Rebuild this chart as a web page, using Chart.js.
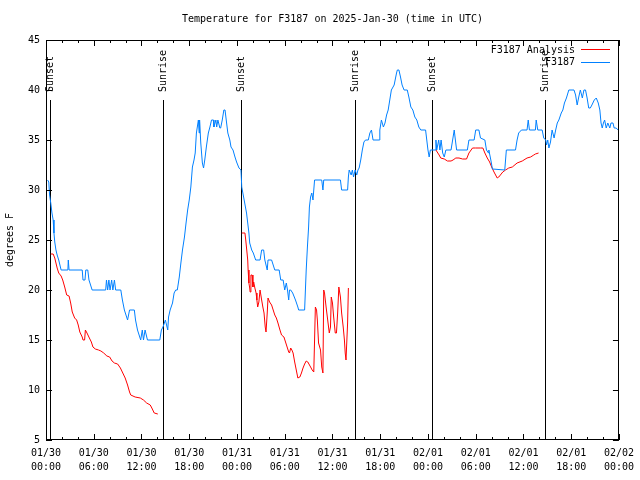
<!DOCTYPE html>
<html><head><meta charset="utf-8">
<script src="https://cdn.jsdelivr.net/npm/chart.js@4/dist/chart.umd.min.js"></script>
<style>html,body{margin:0;padding:0;background:#fff}#wrap{width:640px;height:480px}</style>
</head><body><div id="wrap"><canvas id="c" width="640" height="480"></canvas></div>
<script>
// Hours since 2025-01-30 00:00 UTC
const stationHours = [0.2,0.35,0.45,0.6,0.75,0.9,1.0,1.1,1.25,1.4,1.6,1.9,2.75,2.8,2.9,4.55,4.65,4.9,5.0,5.25,5.4,5.8,7.5,7.6,7.75,7.9,8.05,8.25,8.4,8.6,8.75,9.4,9.6,9.85,10.25,10.5,11.1,11.25,11.5,11.9,12.1,12.25,12.45,12.75,14.3,14.5,14.7,15.0,15.3,15.4,15.6,15.9,16.1,16.3,16.5,16.75,16.95,17.15,17.4,17.6,17.8,18.0,18.2,18.4,18.6,18.75,18.9,19.15,19.25,19.3,19.45,19.65,19.8,19.95,20.15,20.4,20.6,20.8,21.05,21.1,21.35,21.45,21.6,21.85,21.95,22.15,22.35,22.5,22.65,22.85,23.1,23.25,23.5,23.75,23.95,24.25,24.5,24.6,24.9,25.2,25.35,25.5,25.6,25.85,26.05,26.35,26.9,27.1,27.35,27.5,27.8,27.9,28.35,28.75,29.3,29.5,29.8,30.0,30.2,30.35,30.5,30.6,30.75,31.0,31.35,31.65,31.75,32.5,32.7,32.85,33.0,33.1,33.25,33.4,33.55,33.75,34.65,34.8,34.9,37.0,37.15,37.9,38.0,38.1,38.35,38.5,38.65,38.85,39.05,39.2,39.35,39.55,39.75,39.95,40.15,40.5,40.7,40.9,41.1,41.9,41.95,42.15,42.4,42.6,42.8,43.0,43.2,43.4,43.75,44.05,44.15,44.35,44.55,44.75,45.0,45.4,45.6,45.85,46.1,46.35,46.6,46.85,47.1,47.7,47.85,48.0,48.15,48.3,48.9,49.0,49.1,49.35,49.5,49.65,49.85,50.05,50.25,50.9,51.1,51.3,51.4,51.6,52.95,53.15,53.8,54.0,54.4,54.6,55.15,55.35,55.6,55.65,55.9,56.1,57.65,57.85,59.0,59.2,59.4,59.75,60.45,60.6,60.75,61.5,61.6,61.8,62.35,62.55,62.8,62.9,63.05,63.2,63.4,63.6,63.85,64.05,64.25,64.45,64.75,64.95,65.15,65.4,65.7,66.35,66.55,66.75,66.95,67.15,67.4,67.6,67.8,68.0,68.2,68.4,68.6,68.9,69.15,69.4,69.6,69.75,69.9,70.05,70.2,70.4,70.6,70.85,71.0,71.25,71.4,71.65,71.9];
const stationTemps = [31,30.8,29.5,28.7,27.7,27,25.7,24.8,24,23.5,23,22,22,23,22,22,21,21,22,22,21,20,20,21,20,21,20,21,20,21,20,20,19,18,17,18,18,17,16,15,16,15,16,15,15,16,16.3,17,16,17.3,18,18.7,19.7,20,20,21.3,22.7,24,25.3,26.7,28,29,30.3,32.3,33,33.7,35.7,37,35.7,37,34.7,32.7,32.2,33,34.3,35.7,36.3,37,37,36.3,37,36.3,37,36.2,36.2,37,38,38,37,35.7,35,34.3,34,33.3,32.8,32.2,32,30.3,29,27.7,26.7,25.7,24.7,24,23.7,23,23,24,24,23,22,23,23,22,22,21,21,20,20.7,20,19,20,20,19.7,19,18.3,18,18,22,24.3,26.3,28.3,29.3,29.7,29,31,31,30,31,31,30,30,31.3,32,31.5,32,31.3,32,31.5,32,32.2,33,34,34.8,35,35,35.7,36,35,35,36,37,36.3,36.7,37.5,38,39,40,40.5,41.7,42,42,41.3,40.5,40,40,39.3,38.3,38,37.3,37,36.3,36,36,35,34,33.3,34,34,35,34,35,34,35,33.7,33.3,34,34,35,36,35.3,34,34,35,35,36,36,35.2,35,34,33.7,34,33,32.1,32,34,34,35,35.7,36,36,37,36,36,37,36,36,35.2,35,34.5,35,34.2,34.8,36,35.2,36,36.7,37,37.7,38,38.7,39.2,40,40,39.5,38.5,39.3,40,39.2,40,40,39.2,38.2,38.2,38.5,39,39.2,38.7,38,36.7,36.2,36.7,37,36.2,36.7,36.2,36.7,36.7,36.2,36.2,36];

const analysisHours = [0.6,0.9,1.1,1.25,1.4,1.6,1.9,2.1,2.35,2.6,2.9,3.1,3.3,3.6,3.85,4.05,4.25,4.55,4.65,4.85,4.95,5.15,5.45,5.7,5.9,6.2,6.6,6.9,7.25,7.65,8.0,8.3,8.6,9.0,9.35,9.65,9.95,10.25,10.5,10.65,11.2,11.85,12.25,12.65,13.1,13.3,13.6,14.05,
  19.0,
  24.6,25.0,25.1,25.2,25.35,25.4,25.5,25.6,25.65,25.75,25.9,26.0,26.1,26.25,26.4,26.5,26.6,26.75,26.9,27.1,27.25,27.4,27.55,27.65,27.8,27.9,28.1,28.35,28.55,28.75,28.95,29.15,29.4,29.6,29.9,30.1,30.3,30.5,30.6,30.75,30.9,31.05,31.25,31.45,31.65,31.9,32.1,32.3,32.5,32.7,32.9,33.25,33.45,33.65,33.75,33.85,34.0,34.1,34.25,34.5,34.65,34.8,34.9,35.0,35.2,35.4,35.6,35.75,35.85,36.0,36.15,36.35,36.5,36.65,36.8,37.0,37.15,37.35,37.5,37.6,37.7,37.8,37.9,38.0,
  43.0,
  49.0,49.4,49.6,50.05,50.45,50.9,51.15,51.5,51.9,52.35,52.85,53.15,53.6,54.0,54.6,54.9,55.15,55.45,55.75,56.0,56.3,56.5,56.7,56.9,57.1,57.4,57.75,58.15,58.6,59.2,59.85,60.45,60.9,61.3,61.5,61.9];
const analysisTemps = [23.6,23.6,23.2,22.7,22.2,21.7,21.4,21,20.3,19.5,19.4,18.7,17.8,17.2,17,16.5,15.8,15.3,15,15,16,15.7,15.2,14.8,14.3,14.1,14,13.9,13.7,13.4,13.3,12.9,12.7,12.6,12.2,11.7,11.2,10.5,9.8,9.5,9.3,9.2,9,8.7,8.5,8.2,7.7,7.6,
  null,
  25.7,25.7,25,24.2,23,22,20.7,20.2,19.8,21.5,21.5,20.3,20.8,20.2,19.7,19,18.3,18.8,20,19,18.3,17.7,16.3,15.8,17.7,19.2,18.8,18.5,18,17.5,17.2,16.7,16,15.5,15.3,14.8,14.3,13.8,13.7,14.2,14,13.7,12.8,12,11.2,11.3,11.7,12.2,12.6,12.9,12.8,12.3,12,11.8,15,18.3,18,17,14.7,14,12.3,11.7,20,19.7,18.3,17,15.7,16.3,19.3,18.7,17.3,15.7,15.7,17.7,20.3,19.3,17.7,16.3,15,13.7,13,13,16.7,20.2,
  null,
  34,33.5,33.2,33.1,32.9,32.9,33,33.2,33.2,33.1,33.1,33.7,34.2,34.2,34.2,34.2,33.7,33.2,32.8,32.3,31.8,31.5,31.2,31.3,31.5,31.8,32,32.2,32.3,32.7,32.9,33.2,33.3,33.5,33.6,33.7];

const xTickHours = [0,6,12,18,24,30,36,42,48,54,60,66,72];
const xTickLabels = [["01/30","00:00"],["01/30","06:00"],["01/30","12:00"],["01/30","18:00"],["01/31","00:00"],["01/31","06:00"],["01/31","12:00"],["01/31","18:00"],["02/01","00:00"],["02/01","06:00"],["02/01","12:00"],["02/01","18:00"],["02/02","00:00"]];
const xMinorHours = [2,4,8,10,14,16,20,22,26,28,32,34,38,40,44,46,50,52,56,58,62,64,68,70];
const yTickValues = [5,10,15,20,25,30,35,40,45];
const sunEventHours = [0.5,14.75,24.5,38.875,48.5,62.75];
const sunEventLabels = ["Sunset","Sunrise","Sunset","Sunrise","Sunset","Sunrise"];
const seriesNames = ["F3187 Analysis","F3187"];
const seriesColors = ["#ff0000","#0080ff"];

const FONT = '"DejaVu Sans Mono", "Liberation Mono", monospace';

const decor = {
  id: 'decor',
  beforeDatasetsDraw(chart) {
    const {ctx, chartArea: a, scales: {x}} = chart;
    const h = a.bottom - a.top;
    ctx.save();
    ctx.strokeStyle = '#000'; ctx.lineWidth = 1; ctx.fillStyle = '#000';
    ctx.font = '10px ' + FONT;
    sunEventHours.forEach((hr, i) => {
      const px = Math.round(x.getPixelForValue(hr)) + 0.5;
      ctx.beginPath(); ctx.moveTo(px, a.top + 0.15 * h); ctx.lineTo(px, a.bottom); ctx.stroke();
      ctx.save();
      ctx.translate(px, a.top + 0.13 * h);
      ctx.rotate(-Math.PI / 2);
      ctx.textAlign = 'left'; ctx.textBaseline = 'middle';
      ctx.fillText(sunEventLabels[i], 0, 0);
      ctx.restore();
    });
    ctx.restore();
  },
  afterDraw(chart) {
    const {ctx, chartArea: a, scales: {x, y}} = chart;
    ctx.save();
    ctx.strokeStyle = '#000'; ctx.lineWidth = 1;
    ctx.strokeRect(Math.round(a.left) + 0.5, Math.round(a.top) + 0.5, Math.round(a.right - a.left) - 1, Math.round(a.bottom - a.top) - 1);
    ctx.beginPath();
    const tick = (v, len) => {
      const px = Math.round(x.getPixelForValue(v)) + 0.5;
      ctx.moveTo(px, a.bottom); ctx.lineTo(px, a.bottom - len);
      ctx.moveTo(px, a.top); ctx.lineTo(px, a.top + len);
    };
    xTickHours.forEach(v => tick(v, 6));
    xMinorHours.forEach(v => tick(v, 3));
    yTickValues.forEach(v => {
      const py = Math.round(y.getPixelForValue(v)) + 0.5;
      ctx.moveTo(a.left, py); ctx.lineTo(a.left + 6, py);
      ctx.moveTo(a.right, py); ctx.lineTo(a.right - 6, py);
    });
    ctx.stroke();
    // legend (key)
    ctx.font = '10px ' + FONT; ctx.fillStyle = '#000';
    ctx.textAlign = 'right'; ctx.textBaseline = 'middle';
    seriesNames.forEach((n, i) => {
      const ly = a.top + 10 + i * 12.5;
      ctx.fillText(n, a.left + 529, ly);
      ctx.strokeStyle = seriesColors[i];
      ctx.beginPath(); ctx.moveTo(a.left + 535, Math.round(ly) - 0.5); ctx.lineTo(a.left + 564, Math.round(ly) - 0.5); ctx.stroke();
    });
    ctx.restore();
  }
};

new Chart(document.getElementById('c'), {
  type: 'line',
  data: {
    datasets: [
      {
        label: seriesNames[1],
        data: stationHours.map((hr, i) => ({x: hr, y: stationTemps[i]})),
        borderColor: seriesColors[1], borderWidth: 1, pointRadius: 0, tension: 0, fill: false, order: 0
      },
      {
        label: seriesNames[0],
        data: analysisHours.map((hr, i) => ({x: hr, y: analysisTemps[i]})),
        borderColor: seriesColors[0], borderWidth: 1, pointRadius: 0, tension: 0, fill: false, spanGaps: false, order: 1
      }
    ]
  },
  options: {
    responsive: false, animation: false, devicePixelRatio: 1,
    layout: {padding: {left: 0, right: 18, top: 0, bottom: 0}},
    plugins: {
      legend: {display: false},
      tooltip: {enabled: false},
      title: {
        display: true, text: 'Temperature for F3187 on 2025-Jan-30 (time in UTC)',
        color: '#000', font: {family: FONT, size: 10, weight: 'normal', lineHeight: 1.2},
        padding: {top: 13, bottom: 15}, fullSize: false
      }
    },
    scales: {
      x: {
        type: 'linear', min: 0, max: 72,
        afterBuildTicks: s => { s.ticks = xTickHours.map(v => ({value: v})); },
        ticks: {
          autoSkip: false, maxRotation: 0, minRotation: 0, padding: 6, color: '#000',
          font: {family: FONT, size: 10, lineHeight: 1.4},
          callback: v => xTickLabels[xTickHours.indexOf(v)]
        },
        grid: {display: false, drawTicks: false, tickLength: 0}, border: {display: false},
        afterFit: s => { s.height = 40; }
      },
      y: {
        min: 5, max: 45,
        afterBuildTicks: s => { s.ticks = yTickValues.map(v => ({value: v})); },
        ticks: {padding: 6, color: '#000', font: {family: FONT, size: 10}},
        grid: {display: false, drawTicks: false, tickLength: 0}, border: {display: false},
        title: {display: true, text: 'degrees F', color: '#000', font: {family: FONT, size: 10, lineHeight: 1.2}, padding: {top: 4, bottom: 0}},
        afterFit: s => { s.width = 46; }
      }
    }
  },
  plugins: [decor]
});
</script>
</body></html>
